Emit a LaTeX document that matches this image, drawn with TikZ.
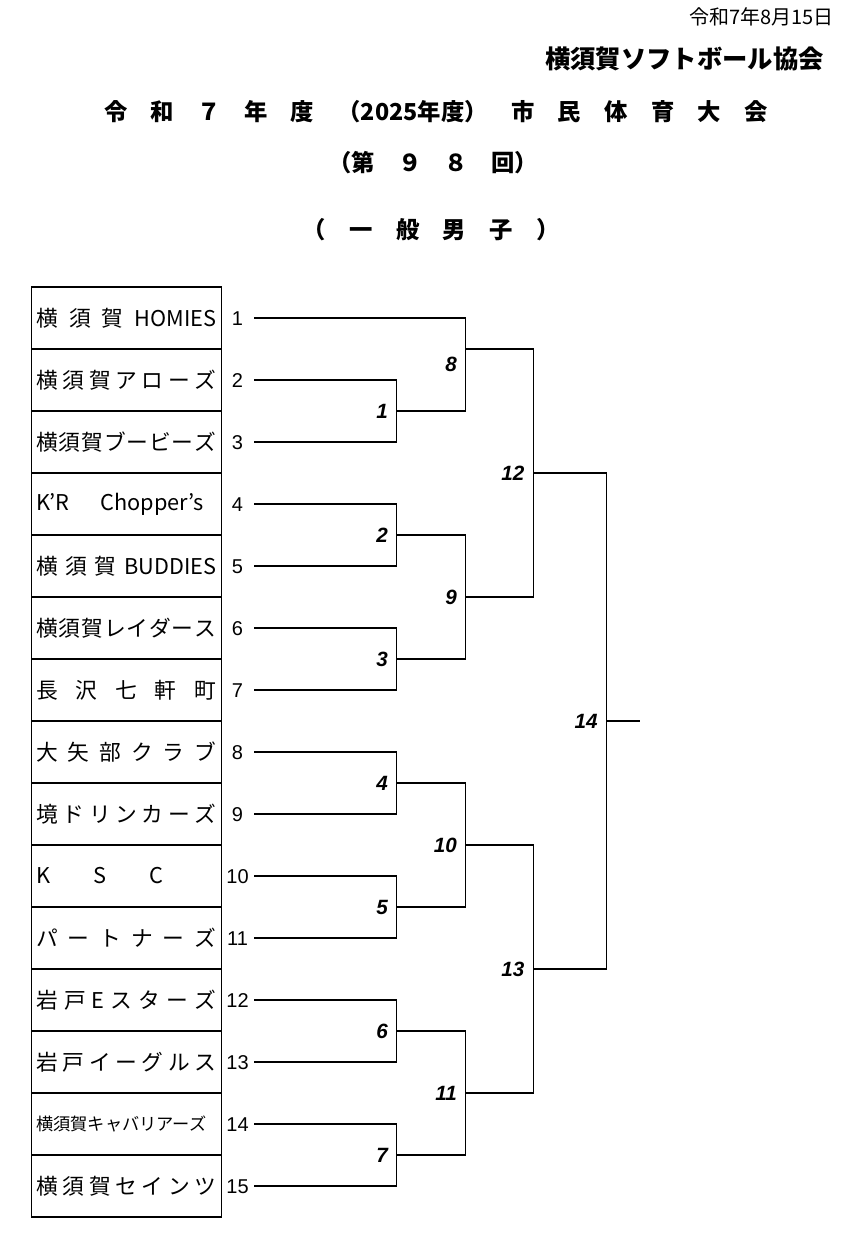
\documentclass[tikz,border=0pt]{standalone}
\usepackage{fontspec}
\setmainfont{Noto Sans CJK JP}
\newfontfamily\numfont{Liberation Sans}
\usetikzlibrary{positioning,calc}

% stretch a name over a fixed width
\newcommand\spreadbox[2]{\makebox[#1][s]{#2}}

\tikzset{
  team/.style={anchor=west, inner sep=0pt, font=\fontsize{16.3pt}{18pt}\selectfont},
  entry/.style={inner sep=0pt, font=\numfont\fontsize{15pt}{17pt}\selectfont},
  lbl/.style={anchor=east, inner sep=0pt, xshift=-6.5pt, font=\numfont\bfseries\itshape\fontsize{15.5pt}{17pt}\selectfont},
  bracket/.style={line width=0.8pt},
}

\begin{document}
\begin{tikzpicture}[x=0.75pt, y=-0.75pt]
    \useasboundingbox (0,0) rectangle (840,1249);
    % heading
    \node[anchor=east, inner sep=0pt, font=\fontsize{15pt}{17pt}\selectfont] (date) at (834,17) {令和7年8月15日};
    \node[anchor=east, inner sep=0pt, font=\bfseries\fontsize{19pt}{21pt}\selectfont] (club) at (824,59) {横須賀ソフトボール協会};
    \node[inner sep=0pt, font=\bfseries\fontsize{17.5pt}{20pt}\selectfont] (title) at (436,112) {令　和　７　年　度　（2025年度）　市　民　体　育　大　会};
    \node[inner sep=0pt, font=\bfseries\fontsize{17.5pt}{20pt}\selectfont] (edition) at (433,163) {（第　９　８　回）};
    \node[inner sep=0pt, font=\bfseries\fontsize{17.5pt}{20pt}\selectfont] (division) at (431,230) {（　一　般　男　子　）};
    % team table
    \draw[bracket] (31.7,287) rectangle (221.3,1217);
    \foreach \i in {1,...,14}
        \draw[bracket] (31.7,287+62*\i) -- (221.3,287+62*\i);
    \foreach \i/\name in {
        1/{\spreadbox{135pt}{横\hfill 須\hfill 賀\hfill HOMIES}},
        2/{\spreadbox{135pt}{横\hfill 須\hfill 賀\hfill ア\hfill ロ\hfill ー\hfill ズ}},
        3/{\spreadbox{135pt}{横\hfill 須\hfill 賀\hfill ブ\hfill ー\hfill ビ\hfill ー\hfill ズ}},
        4/{K’R\hspace{23pt}Chopper’s},
        5/{\spreadbox{135pt}{横\hfill 須\hfill 賀\hfill BUDDIES}},
        6/{\spreadbox{135pt}{横\hfill 須\hfill 賀\hfill レ\hfill イ\hfill ダ\hfill ー\hfill ス}},
        7/{\spreadbox{135pt}{長\hfill 沢\hfill 七\hfill 軒\hfill 町}},
        8/{\spreadbox{135pt}{大\hfill 矢\hfill 部\hfill ク\hfill ラ\hfill ブ}},
        9/{\spreadbox{135pt}{境\hfill ド\hfill リ\hfill ン\hfill カ\hfill ー\hfill ズ}},
        10/{\spreadbox{95pt}{K\hfill S\hfill C}},
        11/{\spreadbox{135pt}{パ\hfill ー\hfill ト\hfill ナ\hfill ー\hfill ズ}},
        12/{\spreadbox{135pt}{岩\hfill 戸\hfill E\hfill ス\hfill タ\hfill ー\hfill ズ}},
        13/{\spreadbox{135pt}{岩\hfill 戸\hfill イ\hfill ー\hfill グ\hfill ル\hfill ス}},
        14/{\fontsize{12.9pt}{14pt}\selectfont 横須賀キャバリアーズ},
        15/{\spreadbox{135pt}{横\hfill 須\hfill 賀\hfill セ\hfill イ\hfill ン\hfill ツ}}}
        \node[team] (t\i) at (36,256+62*\i) {\name};
    % entry numbers
    \foreach \i in {1,...,15} {
        \node[entry] (n\i) at (237.5,257+62*\i) {\i};
        \coordinate (e\i) at (254,256+62*\i);
    }
    % match points
    \foreach \k/\x/\y in {1/396.7/411, 2/396.7/535, 3/396.7/659, 4/396.7/783,
        5/396.7/907, 6/396.7/1031, 7/396.7/1155, 8/465.7/349, 9/465.7/597,
        10/465.7/845, 11/465.7/1093, 12/533.3/473, 13/533.3/969, 14/606.5/721}
        \coordinate (m\k) at (\x,\y);
    \foreach \k/\a/\b in {1/e2/e3, 2/e4/e5, 3/e6/e7, 4/e8/e9, 5/e10/e11,
        6/e12/e13, 7/e14/e15, 8/e1/m1, 9/m2/m3, 10/m4/m5, 11/m6/m7,
        12/m8/m9, 13/m10/m11, 14/m12/m13} {
        \draw[bracket] (\a) -| (m\k) |- (\b);
        \path (\a -| m\k) -- (\b -| m\k) node[midway, lbl] (l\k) {\k};
    }
    \coordinate (champ) at (640,721);
    \draw[bracket] (m14) -- (champ);
\end{tikzpicture}
\end{document}
